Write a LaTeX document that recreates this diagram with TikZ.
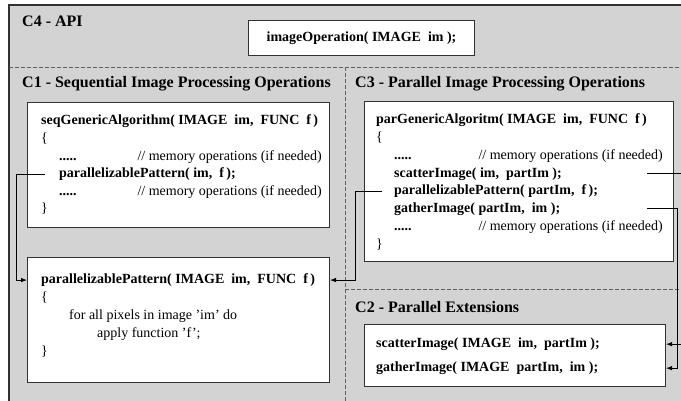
\documentclass[tikz,border=0pt]{standalone}
\usepackage{fontspec}
\setmainfont{Liberation Serif}
\usetikzlibrary{arrows.meta}
\definecolor{bg}{RGB}{211,211,211}
\definecolor{frame}{RGB}{50,50,50}
\definecolor{dashc}{RGB}{95,95,95}
\begin{document}
\begin{tikzpicture}[x=1pt,y=-1pt,
  ttl/.style={font=\fontsize{16}{18}\selectfont\bfseries, anchor=base west, inner sep=0pt},
  code/.style={font=\fontsize{14}{16}\selectfont\bfseries, anchor=base west, inner sep=0pt},
  txt/.style={font=\fontsize{14}{16}\selectfont, anchor=base west, inner sep=0pt},
  cmt/.style={font=\fontsize{14}{16}\selectfont, anchor=base east, inner sep=0pt},
  box/.style={draw=frame, fill=white, line width=1pt, anchor=north west, inner sep=0pt},
  conn/.style={draw=black, line width=0.8pt},
  arr/.style={conn, -{Latex[length=6pt,width=4.5pt]}},
  sepline/.style={draw=dashc, line width=1pt, dash pattern=on 3.5pt off 2.5pt}]
\useasboundingbox (0,0) rectangle (681,400);
\clip (0,0) rectangle (681,400);
\fill[white] (0,0) rectangle (681,400);
% outer C4 area
\draw[fill=bg, draw=frame, line width=1.5pt] (9,5) rectangle (720,440);
% separators
\draw[sepline] (9,67) -- (700,67);
\draw[sepline] (345,67) -- (345,420);
\draw[sepline] (345,289) -- (700,289);
% titles
\node[ttl] (t4) at (22,26.5) {C4 - API};
\node[ttl] (t1) at (22,87.5) {C1 - Sequential Image Processing Operations};
\node[ttl] (t3) at (355,87.5) {C3 - Parallel Image Processing Operations};
\node[ttl] (t2) at (355,312.5) {C2 - Parallel Extensions};
% API box
\node[box, minimum width=226pt, minimum height=35pt] (apibox) at (248,20) {};
\node[code, anchor=center] (api) at (apibox.center) {imageOperation(\ IMAGE\ \ im\ );};
% seq box
\node[box, minimum width=302pt, minimum height=125pt] (seqbox) at (27,102) {};
\node[code] (seqt) at (41,124) {seqGenericAlgorithm(\ IMAGE\ \ im,\ \ FUNC\ \ f\,)};
\node[txt] (seqo) at (41,142) {\{};
\node[code] (seqd1) at (59,160) {.....};
\node[cmt] (seqc1) at (322,160) {// memory operations (if needed)};
\node[code] (seqpp) at (59,177.5) {parallelizablePattern(\ im,\ \ f\,);};
\node[code] (seqd2) at (59,195) {.....};
\node[cmt] (seqc2) at (322,195) {// memory operations (if needed)};
\node[txt] (seqcl) at (41,212.5) {\}};
% parallelizablePattern box
\node[box, minimum width=302pt, minimum height=125pt] (ppbox) at (27,257) {};
\node[code] (ppt) at (41,283.5) {parallelizablePattern(\ IMAGE\ \ im,\ \ FUNC\ \ f\,)};
\node[txt] (ppo) at (41,301.5) {\{};
\node[txt] (pp1) at (69,319.5) {for all pixels in image 'im' do};
\node[txt] (pp2) at (97,337.5) {apply function 'f';};
\node[txt] (ppcl) at (41,355.5) {\}};
% par box
\node[box, minimum width=309pt, minimum height=160pt] (parbox) at (364,101) {};
\node[code] (part) at (376,123.5) {parGenericAlgoritm(\ IMAGE\ \ im,\ \ FUNC\ \ f\,)};
\node[txt] (paro) at (376,141.5) {\{};
\node[code] (pard1) at (394,159.5) {.....};
\node[cmt] (parc1) at (663,159.5) {// memory operations (if needed)};
\node[code] (parsc) at (394,177) {scatterImage(\ im,\ \ partIm\ );};
\node[code] (parpp) at (394,194.5) {parallelizablePattern(\ partIm,\ \ f\,);};
\node[code] (parga) at (394,212) {gatherImage(\ partIm,\ \ im\ );};
\node[code] (pard2) at (394,230) {.....};
\node[cmt] (parc2) at (663,230) {// memory operations (if needed)};
\node[txt] (parcl) at (376,248) {\}};
% C2 box
\node[box, minimum width=301pt, minimum height=62pt] (c2box) at (364,324) {};
\node[code] (c2sc) at (376,347.5) {scatterImage(\ IMAGE\ \ im,\ \ partIm\ );};
\node[code] (c2ga) at (376,371.5) {gatherImage(\ IMAGE\ \ partIm,\ \ im\ );};
% connector helper coordinates
\coordinate (lx) at (16,0);
\coordinate (mx) at (355,0);
\coordinate (rx1) at (647,0);
\coordinate (rx2) at (677,0);
\coordinate (rx3) at (683,0);
\coordinate (sst) at ([xshift=-14pt]seqpp.west);
\coordinate (pst) at ([xshift=-12pt]parpp.west);
% connectors
\draw[arr] (sst) -| (lx |- ppt.center) -- (ppt.center -| ppbox.west);
\draw[arr] (pst) -| (mx |- ppt.center) -- (ppt.center -| ppbox.east);
\draw[arr] (parsc.center -| rx1) -| (rx3 |- c2sc.center) -- (c2sc.center -| c2box.east);
\draw[arr] (parga.center -| rx1) -| (rx2 |- c2ga.center) -- (c2ga.center -| c2box.east);
\end{tikzpicture}
\end{document}
